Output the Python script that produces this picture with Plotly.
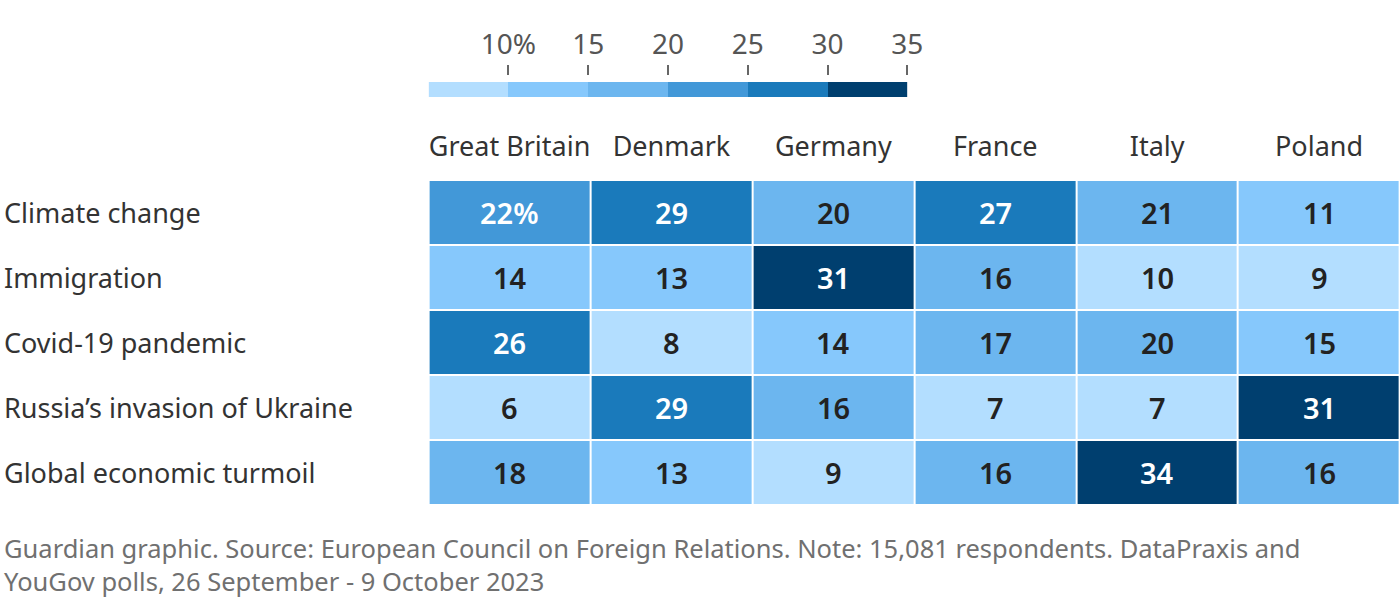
import numpy as np
import plotly.graph_objects as go

# data read from the graphic
countries = ['Great Britain', 'Denmark', 'Germany', 'France', 'Italy', 'Poland']
issues = ['Climate change', 'Immigration', 'Covid-19 pandemic',
          "Russia’s invasion of Ukraine", 'Global economic turmoil']
climate = [22, 29, 20, 27, 21, 11]
immigration = [14, 13, 31, 16, 10, 9]
covid = [26, 8, 14, 17, 20, 15]
ukraine = [6, 29, 16, 7, 7, 31]
economy = [18, 13, 9, 16, 34, 16]

legend_ticks = [10, 15, 20, 25, 30, 35]
legend_labels = ['10%', '15', '20', '25', '30', '35']

colors = ['#b3deff', '#86c8fc', '#6cb6ef', '#4298d8', '#1a7abb', '#003f6f']
# bin edges as used by the shading in the original
edges = [10.5, 15.5, 21.5, 25.5, 30.5]

values = np.array([climate, immigration, covid, ukraine, economy])
bins = np.digitize(values, edges)

n = len(colors)
colorscale = []
for i, c in enumerate(colors):
    colorscale.append([i / n, c])
    colorscale.append([(i + 1) / n, c])

W, H = 1400, 606


def px_x(v):
    return v / W


def px_y(v):
    return 1 - v / H


fig = go.Figure()

fig.add_trace(go.Heatmap(
    z=bins, x=countries, y=issues,
    zmin=-0.5, zmax=n - 0.5,
    colorscale=colorscale, showscale=False,
    xgap=2, ygap=2, hoverinfo='skip',
    xaxis='x', yaxis='y',
))

# legend strip
leg_mid = [(a + b) / 2 for a, b in zip([5] + legend_ticks[:-1], legend_ticks)]
fig.add_trace(go.Heatmap(
    z=[list(range(n))], x=leg_mid, y=[0, 1],
    zmin=-0.5, zmax=n - 0.5,
    colorscale=colorscale, showscale=False, hoverinfo='skip',
    xaxis='x2', yaxis='y2',
))

ann = []
for r, issue in enumerate(issues):
    ann.append(dict(x=px_x(2), xref='paper', y=issue, yref='y', text=issue,
                    xanchor='left', showarrow=False,
                    font=dict(size=27, color='#333333')))
    for c, country in enumerate(countries):
        v = values[r, c]
        txt = f'{v}%' if (r == 0 and c == 0) else str(v)
        ann.append(dict(x=country, y=issue, xref='x', yref='y', text=txt,
                        showarrow=False,
                        font=dict(size=29, weight=600,
                                  color='white' if bins[r, c] >= 3 else '#222222')))

ann.append(dict(
    x=px_x(2), xref='paper', y=px_y(600), yref='paper', xanchor='left', yanchor='bottom',
    align='left', showarrow=False,
    text='Guardian graphic. Source: European Council on Foreign Relations. Note: 15,081 respondents. DataPraxis and<br>'
         'YouGov polls, 26 September - 9 October 2023',
    font=dict(size=25.5, color='#707070'),
))

fig.update_layout(
    width=1418, height=H,
    margin=dict(l=0, r=0, t=0, b=0),
    paper_bgcolor='white', plot_bgcolor='white',
    font=dict(family='Noto Sans', color='#333333'),
    annotations=ann,
    xaxis=dict(domain=[px_x(428), px_x(1398)], side='top', showgrid=False,
               zeroline=False, ticks='', ticklabelstandoff=18,
               tickfont=dict(size=27, color='#333333')),
    yaxis=dict(domain=[px_y(505), px_y(180)], autorange='reversed',
               showgrid=False, zeroline=False, showticklabels=False),
    xaxis2=dict(domain=[px_x(428), px_x(906)], anchor='y2', side='top',
                range=[5, 35], tickvals=legend_ticks, ticktext=legend_labels,
                ticks='outside', ticklen=10, tickwidth=2, tickcolor='#666666',
                showgrid=False, zeroline=False, showline=False,
                tickfont=dict(size=28, color='#555555')),
    yaxis2=dict(domain=[px_y(97), px_y(76)], anchor='x2', range=[0, 1.4],
                showgrid=False, zeroline=False, showticklabels=False),
)

fig.write_html(
    'out.html',
    config={'displayModeBar': False},
    post_script="document.body.style.margin='0';document.body.style.overflow='hidden';",
)
